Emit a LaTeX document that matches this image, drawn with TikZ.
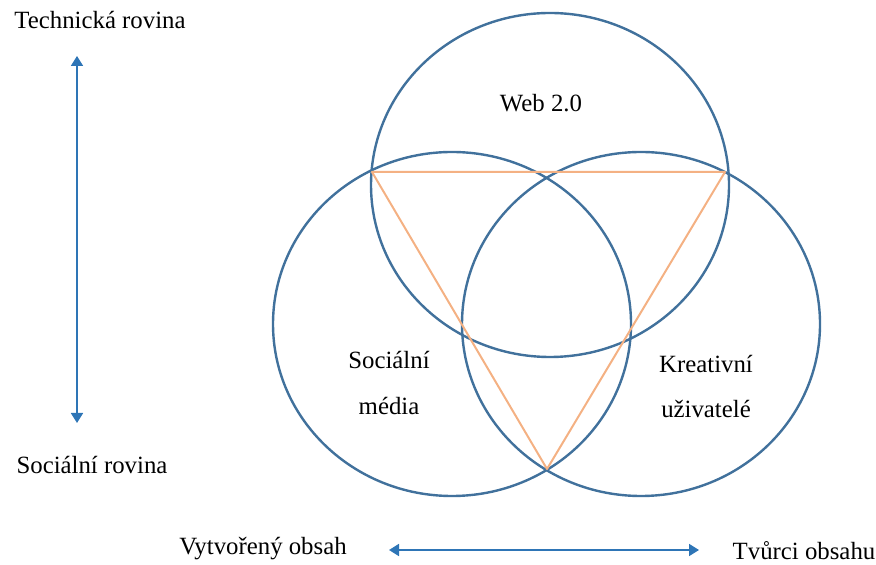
\documentclass[tikz,border=0pt]{standalone}
\usepackage{fontspec}
\setmainfont{Liberation Serif}
\usetikzlibrary{arrows.meta, shapes.geometric}

\definecolor{setblue}{HTML}{41719C}
\definecolor{triorange}{HTML}{F4B183}
\definecolor{arrblue}{HTML}{2E75B6}

\begin{document}
\begin{tikzpicture}[
  x=0.5pt, y=-0.5pt,
  font=\fontsize{12.4}{14}\selectfont,
  set/.style={draw=setblue, line width=1.2pt, ellipse, inner sep=0pt,
              minimum width=179pt, minimum height=172pt},
  tri/.style={draw=triorange, line width=1pt, line join=round},
  arr/.style={{Triangle[length=5pt,width=6pt]}-{Triangle[length=5pt,width=6pt]},
              draw=arrblue, line width=0.9pt},
  lbl/.style={align=center, inner sep=1pt, font=\fontsize{12.4}{22.5}\selectfont}
]
  \useasboundingbox (0,0) rectangle (876,565);

  % three sets
  \node[set] (web) at (550,185) {};
  \node[set] (social) at (452,324) {};
  \node[set] (creative) at (641,324) {};

  \node[lbl] (weblbl) at (541,103) {Web 2.0};
  \node[lbl] (sociallbl) at (389,383) {Sociální\\média};
  \node[lbl] (creativelbl) at (706,387) {Kreativní\\uživatelé};

  % triangle between the crossings
  \coordinate (ta) at (372,172);
  \coordinate (tb) at (725,172);
  \coordinate (tc) at (547,469);
  \draw[tri] (ta) -- (tb) -- (tc) -- cycle;

  % axes
  \node[lbl] (tech) at (100,20) {Technická rovina};
  \node[lbl] (socplane) at (92,465) {Sociální rovina};
  \node[lbl] (made) at (263,549) {Vytvořený obsah};
  \node[lbl] (makers) at (804,551) {Tvůrci obsahu};

  \coordinate (vtop) at (77,56);
  \coordinate (vbot) at (77,423);
  \coordinate (hleft) at (389,550);
  \coordinate (hright) at (699,550);
  \draw[arr] (vtop) -- (vbot);
  \draw[arr] (hleft) -- (hright);
\end{tikzpicture}
\end{document}
